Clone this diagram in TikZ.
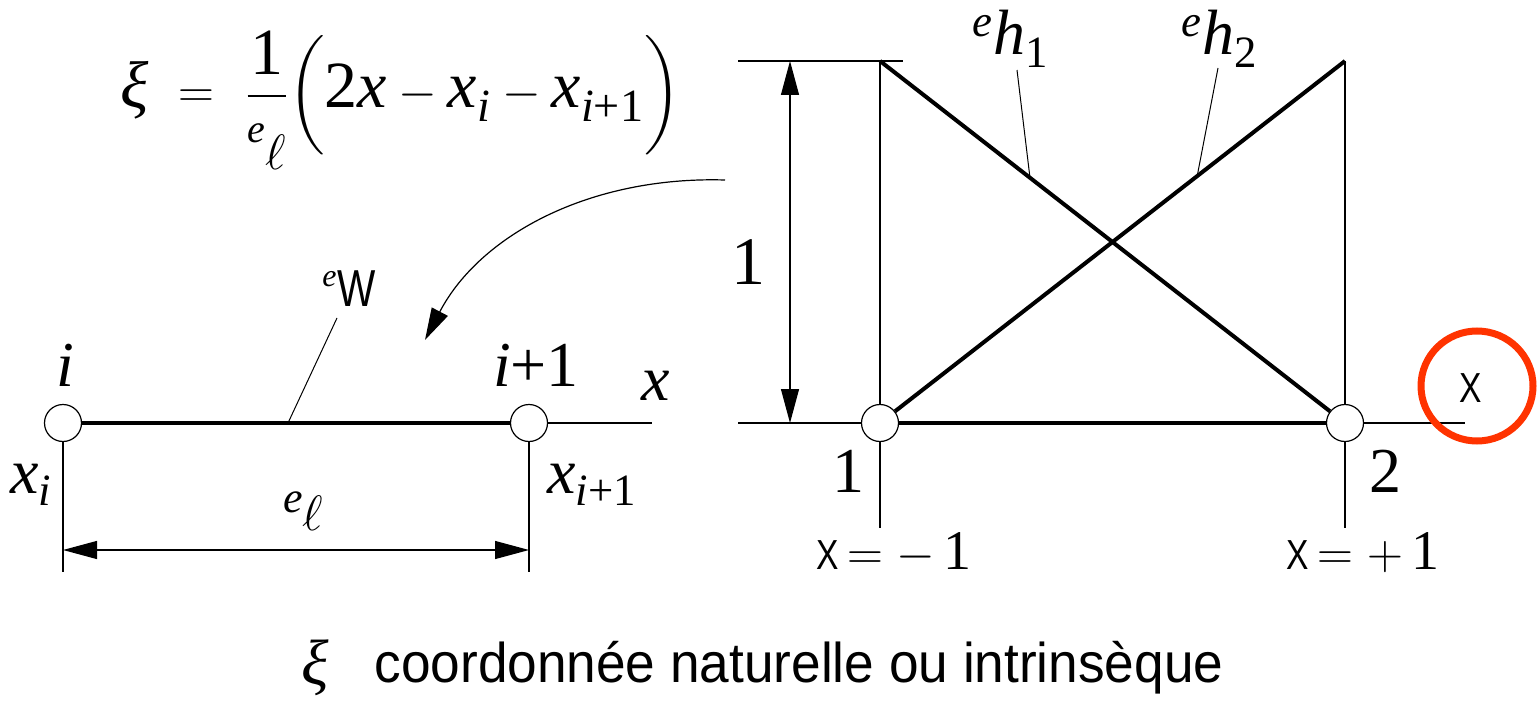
\documentclass[tikz,border=0pt]{standalone}
\usepackage{amsmath}
\usepackage{graphicx}
\usepackage{fontspec}
\setmainfont{Liberation Serif}
\setsansfont{Liberation Sans}
\usetikzlibrary{arrows.meta}
\definecolor{redc}{HTML}{FF3300}
\tikzset{
  nd/.style={circle,draw,fill=white,minimum size=18.5pt,inner sep=0pt,line width=0.6pt},
  thinl/.style={line width=0.6pt},
  thickl/.style={line width=2pt},
  lead/.style={line width=0.5pt},
  dim/.style={line width=0.6pt,{Triangle[length=17pt,width=9pt]}-{Triangle[length=17pt,width=9pt]}},
  lbl/.style={inner sep=0pt,font=\fontsize{32}{38}\selectfont}
}
\newcommand{\mi}[1]{\text{\itshape #1}}
\newcommand{\mr}[1]{\text{#1}}
\newcommand{\sfX}{{\fontsize{21}{26}\selectfont\sffamily\scalebox{0.8}[1]{X}}}
\newcommand{\ixi}{\mbox{\itshape ξ}}
\newcommand{\eden}{\mbox{\fontsize{20}{24}\selectfont\itshape e\raisebox{-13.5pt}{\fontsize{33}{40}\selectfont$\ell$}}}
\begin{document}
\begin{tikzpicture}[x=0.5pt,y=-0.5pt]
\useasboundingbox (0,0) rectangle (1537,701);
% formula
\node[lbl,anchor=base west,font=\fontsize{33}{40}\selectfont] (form) at (120,108) {$\ixi\ =\ \dfrac{\mr{1}}{\eden}\biggl(\mr{2}\mi{x}-\mi{x}_{\mi{i}}-\mi{x}_{\mi{i}\mr{+1}}\biggr)$};
% left element
\node[nd] (ni) at (63,423) {};
\node[nd] (nj) at (529,423) {};
\coordinate (xend) at (652,423);
\coordinate (ib) at (63,572);
\coordinate (jb) at (529,572);
\coordinate (da) at (63,550);
\coordinate (db) at (529,550);
\draw[thickl] (ni) -- (nj);
\draw[thinl] (nj) -- (xend);
\draw[thinl] (ni.south) -- (ib);
\draw[thinl] (nj.south) -- (jb);
\draw[dim] (da) -- (db);
\node[lbl] (li) at (65,365) {\textit{i}};
\node[lbl] (lj) at (536,365) {\textit{i}+1};
\node[lbl] (lx) at (656,386) {\textit{x}};
\node[lbl] (lxi) at (31,485) {$\mi{x}_{\mi{i}}$};
\node[lbl] (lxj) at (592,485) {$\mi{x}_{\mi{i}\mr{+1}}$};
\node[inner sep=0pt,anchor=base west] (lel) at (283,512) {\fontsize{22}{26}\selectfont\itshape e\raisebox{-9pt}{\fontsize{27}{30}\selectfont$\ell$}};
\node[inner sep=0pt,anchor=base west] (lew) at (322,306) {\raisebox{9.5pt}{\fontsize{16}{18}\selectfont\itshape e}\kern0.5pt{\fontsize{26}{30}\selectfont\sffamily\scalebox{0.78}[1]{W}}};
\coordinate (wa) at (337,318);
\coordinate (wb) at (288,423);
\draw[lead] (wa) -- (wb);
% curved arrow
\coordinate (ca) at (725,180);
\coordinate (cb) at (425,340);
\draw[line width=0.6pt,-{Triangle[length=16pt,width=9pt]}] (ca) .. controls (590,176) and (480,235) .. (cb);
% right figure
\node[nd] (n1) at (880,423) {};
\node[nd] (n2) at (1345,423) {};
\coordinate (bl) at (738,423);
\coordinate (br) at (1465,423);
\coordinate (tl) at (738,61);
\coordinate (tr) at (903,61);
\coordinate (p1) at (880,61);
\coordinate (p2) at (1345,61);
\coordinate (q1) at (880,528);
\coordinate (q2) at (1345,528);
\coordinate (d1) at (790,61);
\coordinate (d2) at (790,423);
\draw[thinl] (bl) -- (n1);
\draw[thickl] (n1) -- (n2);
\draw[thinl] (n2) -- (br);
\draw[thinl] (tl) -- (tr);
\draw[thinl] (p1) -- (n1.north);
\draw[thinl] (n1.south) -- (q1);
\draw[thinl] (p2) -- (n2.north);
\draw[thinl] (n2.south) -- (q2);
\draw[thickl] (p1) -- (n2);
\draw[thickl] (n1) -- (p2);
\draw[dim] (d1) -- (d2);
\coordinate (h1a) at (1017,70);
\coordinate (h1b) at (1030,178);
\coordinate (h2a) at (1218,68);
\coordinate (h2b) at (1197,177);
\draw[lead] (h1a) -- (h1b);
\draw[lead] (h2a) -- (h2b);
\node[lbl] (lh1) at (1011,39) {$^{\mi{e}}\mi{h}_{\mr{1}}$};
\node[lbl] (lh2) at (1220,39) {$^{\mi{e}}\mi{h}_{\mr{2}}$};
\node[lbl,font=\fontsize{34}{40}\selectfont] (l1d) at (748,262) {1};
\node[lbl] (l1) at (848,471) {1};
\node[lbl] (l2) at (1385,471) {2};
\node[lbl,font=\fontsize{28}{34}\selectfont] (lxm) at (894,553) {\sfX$\,=-\,$1};
\node[lbl,font=\fontsize{28}{34}\selectfont] (lxp) at (1363,553) {\sfX$\,=+\,$1};
\node[inner sep=0pt] (lX) at (1471,388) {\sfX};
\draw[redc,line width=3.5pt] (1477,386) ellipse [x radius=28pt,y radius=27.5pt];
% bottom caption
\node[lbl] (bxi) at (315,668) {\ixi};
\node[inner sep=0pt,font=\fontsize{28}{32}\selectfont\sffamily] (cap) at (799,668) {\scalebox{0.95}[1]{coordonnée naturelle ou intrinsèque}};
\end{tikzpicture}
\end{document}
